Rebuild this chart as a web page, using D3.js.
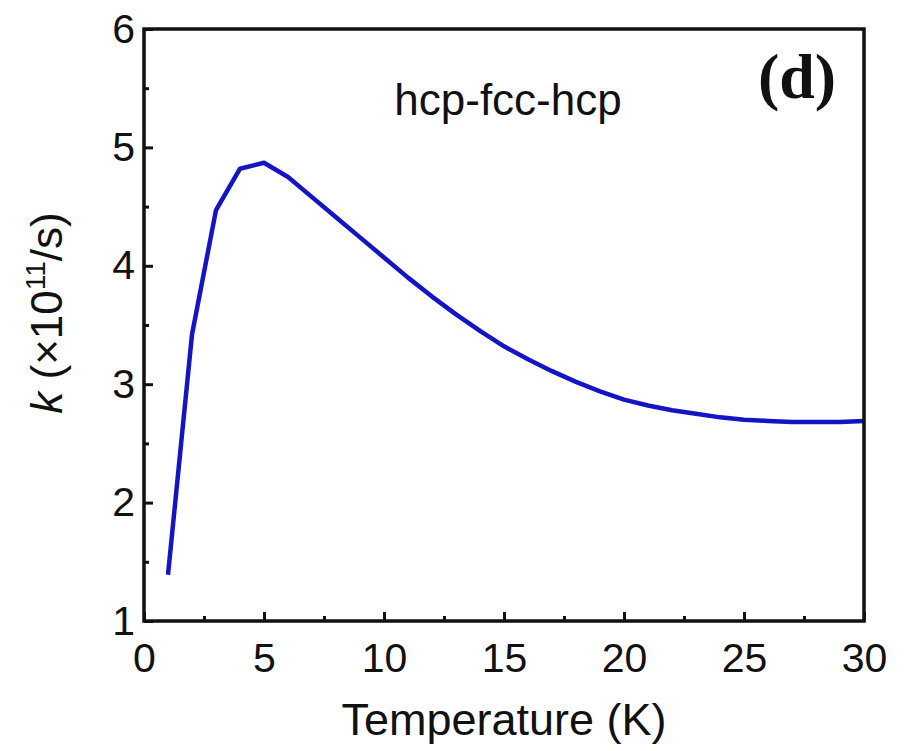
<!DOCTYPE html>
<html>
<head>
<meta charset="utf-8">
<script src="https://cdn.jsdelivr.net/npm/d3@7"></script>
<style>
  html, body { margin: 0; padding: 0; background: #fff; }
  svg { display: block; }
</style>
</head>
<body>
<svg id="chart" width="907" height="751"></svg>
<script>
// ---- data ----
const temperature = [1,2,3,4,5,6,7,8,9,10,11,12,13,14,15,16,17,18,19,20,21,22,23,24,25,26,27,28,29,30];
const rateK = [1.39,3.42,4.47,4.82,4.87,4.75,4.58,4.41,4.24,4.07,3.90,3.74,3.59,3.45,3.32,3.21,3.11,3.02,2.94,2.87,2.82,2.78,2.75,2.72,2.70,2.69,2.68,2.68,2.68,2.69];
const xTicks = [0,5,10,15,20,25,30];
const xMinorTicks = [2.5,7.5,12.5,17.5,22.5,27.5];
const yTicks = [1,2,3,4,5,6];
const yMinorTicks = [1.5,2.5,3.5,4.5,5.5];
const seriesLabel = "hcp-fcc-hcp";
const panelLabel = "(d)";
const xTitle = "Temperature (K)";

// ---- layout ----
const W = 907, H = 751;
const margin = {left: 144, top: 29, right: 43, bottom: 130};
const iw = W - margin.left - margin.right;
const ih = H - margin.top - margin.bottom;
const SANS = "'Liberation Sans', Arial, sans-serif";
const SERIF = "'Liberation Serif', 'Times New Roman', serif";

const svg = d3.select("#chart");
const g = svg.append("g").attr("transform", `translate(${margin.left},${margin.top})`);

const x = d3.scaleLinear().domain([0, 30]).range([0, iw]);
const y = d3.scaleLinear().domain([1, 6]).range([ih, 0]);

// line
const line = d3.line().x((d, i) => x(temperature[i])).y(d => y(d));
g.append("path").datum(rateK)
  .attr("d", line)
  .attr("fill", "none")
  .attr("stroke", "#1414c4")
  .attr("stroke-width", 4.5)
  .attr("stroke-linejoin", "round");

// frame
g.append("rect").attr("x", 0).attr("y", 0).attr("width", iw).attr("height", ih)
  .attr("fill", "none").attr("stroke", "#111").attr("stroke-width", 3.5);

// axes
const fs = 41;
const xAxis = g.append("g").attr("transform", `translate(0,${ih})`)
  .call(d3.axisBottom(x).tickValues(xTicks).tickSizeInner(-9).tickSizeOuter(0).tickPadding(22).tickFormat(d3.format("d")));
const xMinor = g.append("g").attr("transform", `translate(0,${ih})`)
  .call(d3.axisBottom(x).tickValues(xMinorTicks).tickSizeInner(-5).tickSizeOuter(0).tickFormat(""));
const yAxis = g.append("g")
  .call(d3.axisLeft(y).tickValues(yTicks).tickSizeInner(-9).tickSizeOuter(0).tickPadding(9).tickFormat(d3.format("d")));
const yMinor = g.append("g")
  .call(d3.axisLeft(y).tickValues(yMinorTicks).tickSizeInner(-5).tickSizeOuter(0).tickFormat(""));

[xAxis, xMinor, yAxis, yMinor].forEach(a => {
  a.select(".domain").remove();
  a.selectAll(".tick line").attr("stroke", "#111").attr("stroke-width", 3);
  a.selectAll(".tick text")
    .style("font-family", SANS)
    .style("font-size", fs + "px").attr("fill", "#111");
});

// x title
svg.append("text")
  .attr("x", margin.left + iw / 2).attr("y", 735)
  .attr("text-anchor", "middle")
  .style("font-family", SANS).style("font-size", "45px").attr("fill", "#111")
  .text(xTitle);

// y title
const yt = svg.append("text")
  .attr("transform", `translate(62,${margin.top + ih / 2 - 12}) rotate(-90)`)
  .attr("text-anchor", "middle")
  .style("font-family", SANS).style("font-size", "44px").attr("fill", "#111");
yt.append("tspan").style("font-style", "italic").text("k");
yt.append("tspan").text(" (×10");
yt.append("tspan").style("font-size", "28px").attr("dy", -17).text("11");
yt.append("tspan").attr("dy", 17).text("/s)");

// series label
svg.append("text")
  .attr("x", 508).attr("y", 115)
  .attr("text-anchor", "middle")
  .style("font-family", SANS).style("font-size", "44px").attr("fill", "#111")
  .text(seriesLabel);

// panel label
svg.append("text")
  .attr("x", 797).attr("y", 98)
  .attr("text-anchor", "middle")
  .style("font-family", SERIF).style("font-weight", "bold").style("font-size", "64px")
  .attr("fill", "#111")
  .text(panelLabel);
</script>
</body>
</html>
